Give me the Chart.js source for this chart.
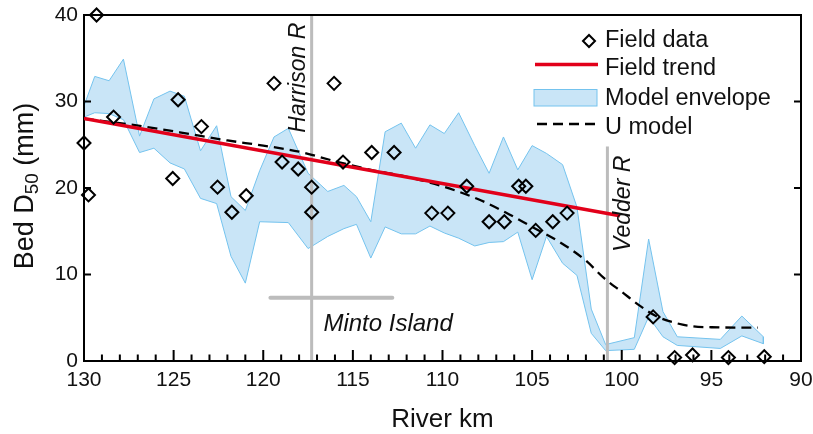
<!DOCTYPE html>
<html>
<head>
<meta charset="utf-8">
<script src="https://cdn.jsdelivr.net/npm/chart.js@4.4.0/dist/chart.umd.min.js"></script>
<style>
  html, body { margin: 0; padding: 0; background: #fff; }
</style>
</head>
<body>
<canvas id="bedChart" width="813" height="434"></canvas>
<script>
// field samples: river km vs bed D50 (mm)
const fieldKm = [129.3, 130.0, 129.75, 128.35, 124.75, 125.05, 123.45, 122.55, 121.75, 120.95,
  119.4, 118.95, 118.05, 117.3, 117.3, 116.05, 115.55, 113.95, 112.7, 110.6,
  109.7, 108.65, 107.4, 106.55, 105.75, 105.35, 104.8, 103.85, 103.05, 98.25,
  97.05, 96.05, 94.05, 92.05]
const fieldD50 = [40.0, 25.2, 19.2, 28.2, 30.2, 21.1, 27.1, 20.1, 17.2, 19.1,
  32.1, 23.0, 22.2, 20.1, 17.2, 32.1, 23.0, 24.1, 24.1, 17.1,
  17.1, 20.2, 16.1, 16.1, 20.2, 20.2, 15.1, 16.1, 17.1, 5.1,
  0.4, 0.7, 0.4, 0.5]

// linear field trend
const trendKm = [130, 100.1]
const trendD50 = [28.05, 16.8]

// U model
const uKm = [130, 128, 126, 124, 122, 120, 118, 116, 114, 112, 110, 108, 106.5, 105,
  103.5, 102, 101, 100, 99, 98, 97, 96, 95, 92.4]
const uD50 = [28.0, 27.5, 26.9, 26.2, 25.5, 24.9, 24.2, 23.1, 22.1, 21.3, 20.2, 18.7, 17.2, 15.5,
  13.8, 11.6, 9.6, 8.0, 6.4, 5.1, 4.4, 4.0, 3.9, 3.85]

// model envelope (upper / lower bound)
const envKm = [130.0, 129.4, 128.6, 127.8, 126.9, 126.1, 125.2, 124.4, 123.5, 122.6,
  121.8, 121.0, 120.2, 119.4, 118.6, 117.5, 116.4, 115.5, 114.8, 114.0,
  113.2, 112.3, 111.5, 110.7, 109.9, 109.1, 108.2, 107.4, 106.6, 105.8,
  105.0, 104.2, 103.3, 102.5, 101.7, 100.9, 99.3, 98.5, 97.7, 96.9,
  94.5, 93.3, 92.1]
const envUpper = [29.5, 32.9, 32.4, 34.9, 26.0, 30.3, 31.2, 30.6, 24.3, 27.2,
  19.0, 17.4, 22.0, 25.9, 26.9, 21.7, 19.6, 20.3, 19.0, 16.1,
  26.5, 27.5, 24.6, 27.3, 26.3, 28.7, 24.9, 21.7, 25.9, 22.1,
  24.9, 24.0, 22.7, 17.8, 6.0, 1.9, 2.7, 14.1, 5.7, 2.8,
  2.5, 5.2, 2.8]
const envLower = [28.2, 28.7, 28.6, 27.9, 24.1, 24.6, 22.9, 22.2, 18.8, 18.2,
  12.1, 9.0, 16.1, 16.05, 16.0, 13.0, 14.4, 15.3, 15.8, 11.9,
  15.5, 14.7, 14.7, 15.6, 14.8, 14.2, 13.3, 13.7, 13.8, 14.9,
  9.4, 14.4, 11.3, 9.9, 3.2, 1.2, 1.35, 5.1, 2.8, 1.8,
  1.45, 2.9, 2.0]

// landmarks
const harrisonKm = 117.3
const vedderKm = 100.8
const vedderTop = 24.8
const mintoKm = [119.6, 112.8]
const mintoD50 = 7.3

const xMin = 90, xMax = 130
const yTicks = [0, 10, 20, 30, 40]

const FONT = '"Liberation Sans", Arial, Helvetica, sans-serif'
const RED = '#e2001a'
const BLUE_FILL = '#c9e5f7'
const BLUE_LINE = '#74c3ee'
const GREY = '#bcbcbc'

const pts = (xs, ys) => xs.map((v, i) => ({ x: v, y: ys[i] }))

let envelope = pts(envKm, envUpper)
    .concat(pts(envKm, envLower).reverse())
envelope.push({ x: envKm[0], y: envUpper[0] })

// frame + inward ticks, drawn after the grey landmark lines
const frame = {
    id: 'frame',
    afterDatasetDraw(chart, args) {
        if (args.index !== 3) return
        const { ctx, chartArea: a, scales: { x, y } } = chart
        ctx.save()
        ctx.strokeStyle = '#000'
        ctx.lineWidth = 2
        ctx.strokeRect(a.left, a.top, a.right - a.left, a.bottom - a.top)
        ctx.beginPath()
        for (let k = xMin + 1; k < xMax; k++) {
            let px = x.getPixelForValue(k)
            let len = k % 5 === 0 ? 11 : 6.5
            ctx.moveTo(px, a.bottom)
            ctx.lineTo(px, a.bottom - len)
        }
        for (let v of yTicks.slice(1, -1)) {
            let py = y.getPixelForValue(v)
            ctx.moveTo(a.left, py); ctx.lineTo(a.left + 7, py)
            ctx.moveTo(a.right, py); ctx.lineTo(a.right - 7, py)
        }
        ctx.stroke()
        ctx.restore()
    }
}

// titles, landmark labels, legend
const texts = {
    id: 'texts',
    afterDraw(chart) {
        const { ctx, chartArea: a, scales: { x, y } } = chart
        ctx.save()
        ctx.fillStyle = '#111'
        ctx.textBaseline = 'alphabetic'

        // y title with subscript
        ctx.translate(33, 186)
        ctx.rotate(-Math.PI / 2)
        ctx.font = '27px ' + FONT
        let w1 = ctx.measureText('Bed D').width
        let w3 = ctx.measureText(' (mm)').width
        ctx.font = '19px ' + FONT
        let w2 = ctx.measureText('50').width
        let tx = -(w1 + w2 + w3) / 2
        ctx.font = '27px ' + FONT
        ctx.textAlign = 'left'
        ctx.fillText('Bed D', tx, 0)
        ctx.font = '19px ' + FONT
        ctx.fillText('50', tx + w1, 5)
        ctx.font = '27px ' + FONT
        ctx.fillText(' (mm)', tx + w1 + w2, 0)
        ctx.setTransform(1, 0, 0, 1, 0, 0)

        // x title
        ctx.textAlign = 'center'
        ctx.font = '26px ' + FONT
        ctx.fillText('River km', (a.left + a.right) / 2, 427)

        // landmark labels
        ctx.font = 'italic 23px ' + FONT
        ctx.textAlign = 'left'
        ctx.save()
        ctx.translate(x.getPixelForValue(harrisonKm) - 7, y.getPixelForValue(26.4))
        ctx.rotate(-Math.PI / 2)
        ctx.fillText('Harrison R', 0, 0)
        ctx.restore()
        ctx.save()
        ctx.translate(x.getPixelForValue(vedderKm) + 23, y.getPixelForValue(12.6))
        ctx.rotate(-Math.PI / 2)
        ctx.fillText('Vedder R', 0, 0)
        ctx.restore()
        ctx.font = 'italic 24px ' + FONT
        ctx.fillText('Minto Island', x.getPixelForValue(mintoKm[0]) + 53, y.getPixelForValue(mintoD50) + 33)

        // legend
        const lx = 605
        const rows = [47, 75, 105, 134]
        ctx.font = '23.5px ' + FONT
        ctx.fillText('Field data', lx, rows[0])
        ctx.fillText('Field trend', lx, rows[1])
        ctx.fillText('Model envelope', lx, rows[2])
        ctx.fillText('U model', lx, rows[3])

        ctx.strokeStyle = '#000'
        ctx.lineWidth = 2
        ctx.beginPath()
        ctx.moveTo(583, 41); ctx.lineTo(589, 35); ctx.lineTo(595, 41); ctx.lineTo(589, 47)
        ctx.closePath()
        ctx.stroke()

        ctx.strokeStyle = RED
        ctx.lineWidth = 3.5
        ctx.beginPath()
        ctx.moveTo(535, 64.5); ctx.lineTo(598, 64.5)
        ctx.stroke()

        ctx.fillStyle = BLUE_FILL
        ctx.fillRect(534, 89.5, 63, 16.5)
        ctx.strokeStyle = BLUE_LINE
        ctx.lineWidth = 1
        ctx.strokeRect(534, 89.5, 63, 16.5)

        ctx.strokeStyle = '#000'
        ctx.lineWidth = 2.3
        ctx.setLineDash([10, 6])
        ctx.beginPath()
        ctx.moveTo(537, 124); ctx.lineTo(598, 124)
        ctx.stroke()
        ctx.restore()
    }
}

new Chart(document.getElementById('bedChart'), {
    type: 'line',
    data: {
        datasets: [
            {
                data: envelope,
                fill: 'shape',
                backgroundColor: BLUE_FILL,
                borderColor: BLUE_LINE,
                borderWidth: 1,
                pointRadius: 0,
                tension: 0,
                order: 10
            },
            {
                data: [{ x: harrisonKm, y: 0 }, { x: harrisonKm, y: 40 }],
                borderColor: GREY, borderWidth: 3, pointRadius: 0, order: 9
            },
            {
                data: [{ x: vedderKm, y: 0 }, { x: vedderKm, y: vedderTop }],
                borderColor: GREY, borderWidth: 3, pointRadius: 0, order: 8
            },
            {
                data: [{ x: mintoKm[0], y: mintoD50 }, { x: mintoKm[1], y: mintoD50 }],
                borderColor: GREY, borderWidth: 4, borderCapStyle: 'round', pointRadius: 0, order: 7
            },
            {
                data: pts(uKm, uD50),
                borderColor: '#000', borderWidth: 2.3, borderDash: [10, 6],
                pointRadius: 0, cubicInterpolationMode: 'monotone', order: 3
            },
            {
                data: pts(trendKm, trendD50),
                borderColor: RED, borderWidth: 3.5, pointRadius: 0, order: 2
            },
            {
                data: pts(fieldKm, fieldD50),
                showLine: false,
                pointStyle: 'rectRot',
                pointRadius: 6.5,
                pointBorderWidth: 2,
                pointBorderColor: '#000',
                pointBackgroundColor: 'rgba(0,0,0,0)',
                clip: false,
                order: 1
            }
        ]
    },
    options: {
        responsive: false,
        devicePixelRatio: 1,
        animation: false,
        layout: { padding: { left: 0, right: 12, top: 15, bottom: 0 } },
        plugins: { legend: { display: false }, tooltip: { enabled: false } },
        scales: {
            x: {
                type: 'linear',
                reverse: true,
                min: xMin,
                max: xMax,
                grid: { display: false, drawTicks: false },
                border: { display: false },
                ticks: { stepSize: 5, padding: 7, color: '#111', font: { family: FONT, size: 21 } },
                afterFit(scale) {
                    scale.height = 73
                    scale.paddingLeft = 0
                    scale.paddingRight = 0
                }
            },
            y: {
                min: 0,
                max: 40,
                grid: { display: false, drawTicks: false },
                border: { display: false },
                ticks: { stepSize: 10, padding: 6, color: '#111', font: { family: FONT, size: 21 } },
                afterFit(scale) {
                    scale.width = 84
                    scale.paddingTop = 0
                    scale.paddingBottom = 0
                }
            }
        }
    },
    plugins: [frame, texts]
})
</script>
</body>
</html>
